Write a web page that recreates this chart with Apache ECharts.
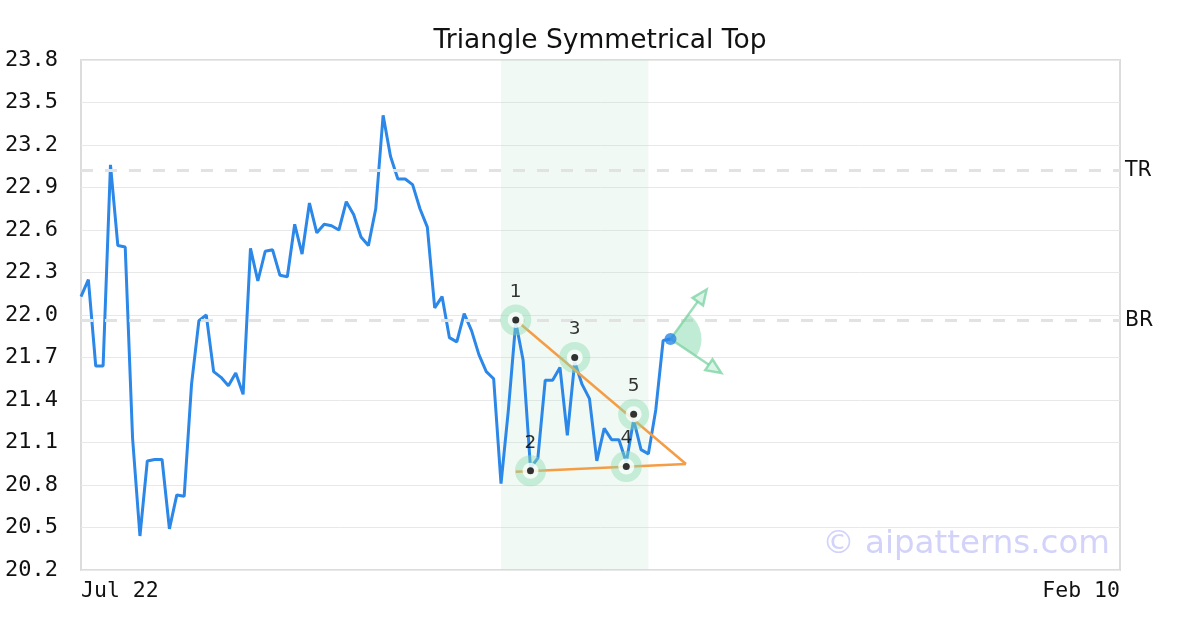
<!DOCTYPE html>
<html>
<head>
<meta charset="utf-8">
<script src="https://cdn.jsdelivr.net/npm/echarts@6/dist/echarts.min.js"></script>
<style>html,body{margin:0;padding:0;background:#fff}#c{width:1200px;height:630px}</style>
</head>
<body>
<div id="c"></div>
<script>
// ---- data ----
const titleText = 'Triangle Symmetrical Top';
const xTickValues = [0, 141];
const xTickLabels = ['Jul 22', 'Feb 10'];
const prices = [
  22.13, 22.25, 21.64, 21.64, 23.06, 22.49, 22.48, 21.13, 20.44, 20.97,
  20.98, 20.98, 20.49, 20.73, 20.72, 21.51, 21.96, 22.00, 21.60, 21.56,
  21.50, 21.59, 21.44, 22.47, 22.24, 22.45, 22.46, 22.28, 22.27, 22.64,
  22.43, 22.79, 22.58, 22.64, 22.63, 22.60, 22.80, 22.71, 22.55, 22.49,
  22.75, 23.41, 23.12, 22.96, 22.96, 22.92, 22.75, 22.62, 22.05, 22.13,
  21.84, 21.81, 22.01, 21.89, 21.72, 21.60, 21.55, 20.81, 21.33, 21.95,
  21.68, 20.92, 20.99, 21.54, 21.54, 21.63, 21.15, 21.67, 21.51, 21.41,
  20.97, 21.20, 21.12, 21.12, 20.96, 21.26, 21.05, 21.02, 21.33, 21.82,
  21.83
];
const pivotX = [59, 61, 67, 74, 75];
const pivotY = [21.965, 20.90, 21.70, 20.93, 21.30];
const pivotLabels = ['1', '2', '3', '4', '5'];
const upperTrend = [[59, 21.965], [82.1, 20.948]];
const lowerTrend = [[59, 20.894], [82.1, 20.948]];
const zoneRange = [57, 77];
const levelNames = ['TR', 'BR'];
const levelValues = [23.02, 21.96];
const arrowOrigin = [80, 21.83];
const arrowUpTip = [84.9, 22.18];
const arrowDownTip = [86.9, 21.59];
const watermark = '\u00A9 aipatterns.com';

// ---- build ----
const lineData = prices.map((v, i) => [i, v]);
const pivotData = pivotX.map((x, i) => [x, pivotY[i], pivotLabels[i]]);
const lastPoint = [[prices.length - 1, prices[prices.length - 1]]];

const chart = echarts.init(document.getElementById('c'), null, {renderer: 'canvas'});

function arrowRender(params, api) {
  const o = api.coord(arrowOrigin);
  const tips = [api.coord(arrowUpTip), api.coord(arrowDownTip)];
  const col = 'rgba(120,210,160,0.75)';
  const children = [];
  const angs = tips.map(t => Math.atan2(t[1] - o[1], t[0] - o[0]));
  children.push({
    type: 'sector',
    shape: {cx: o[0], cy: o[1], r0: 0, r: 31, startAngle: angs[0], endAngle: angs[1], clockwise: true},
    style: {fill: 'rgba(130,215,170,0.5)'}
  });
  tips.forEach((t, k) => {
    const a = angs[k];
    const L = 15, W = 6.5;
    const bx = t[0] - L * Math.cos(a), by = t[1] - L * Math.sin(a);
    children.push({
      type: 'line',
      shape: {x1: o[0], y1: o[1], x2: bx, y2: by},
      style: {stroke: col, lineWidth: 2.5}
    });
    children.push({
      type: 'polygon',
      shape: {points: [
        [t[0], t[1]],
        [bx + W * Math.sin(a), by - W * Math.cos(a)],
        [bx - W * Math.sin(a), by + W * Math.cos(a)]
      ]},
      style: {stroke: col, lineWidth: 2.5, fill: 'rgba(150,225,185,0.35)'}
    });
  });
  return {type: 'group', children};
}

chart.setOption({
  animation: false,
  backgroundColor: '#fff',
  title: {
    text: titleText, left: 'center', top: 23,
    textStyle: {fontFamily: 'DejaVu Sans', fontSize: 26.5, fontWeight: 'normal', color: '#111'}
  },
  grid: {left: 81, right: 80, top: 60, bottom: 60, show: true, borderColor: '#dcdcdc', borderWidth: 2, backgroundColor: 'transparent'},
  xAxis: {
    type: 'value', min: 0, max: 141,
    axisLine: {show: false}, axisTick: {show: false}, splitLine: {show: false},
    axisLabel: {
      customValues: xTickValues,
      formatter: v => xTickLabels[xTickValues.indexOf(v)] || '',
      alignMinLabel: 'left', alignMaxLabel: 'right',
      fontFamily: 'DejaVu Sans Mono', fontSize: 21.5, color: '#111', margin: 10
    }
  },
  yAxis: {
    type: 'value', min: 20.2, max: 23.8, interval: 0.3,
    axisLine: {show: false}, axisTick: {show: false},
    splitLine: {lineStyle: {color: '#e8e8e8', width: 1}},
    axisLabel: {formatter: v => v.toFixed(1), fontFamily: 'DejaVu Sans Mono', fontSize: 22, color: '#111', margin: 23, padding: [9, 0, 0, 0]}
  },
  graphic: [{
    type: 'text', right: 90, top: 528, z: 100,
    style: {text: watermark, font: '32.5px "DejaVu Sans"', fill: 'rgba(165,165,245,0.5)'}
  }],
  series: [
    {
      type: 'line', data: lineData, showSymbol: false, z: 3,
      lineStyle: {color: '#2b87e8', width: 3}, itemStyle: {color: '#2b87e8'},
      markArea: {
        silent: true,
        itemStyle: {color: 'rgba(170,220,195,0.18)'},
        data: [[{xAxis: zoneRange[0]}, {xAxis: zoneRange[1]}]]
      },
      markLine: {
        silent: true, symbol: 'none',
        lineStyle: {color: '#e2e2e2', width: 3, type: [12, 12]},
        label: {position: 'end', distance: 5, padding: [7, 0, 0, 0], formatter: p => p.name, fontFamily: 'DejaVu Sans', fontSize: 20.5, color: '#111'},
        data: levelValues.map((v, i) => ({yAxis: v, name: levelNames[i]}))
      }
    },
    {type: 'line', data: upperTrend, showSymbol: false, z: 4, lineStyle: {color: '#f59d45', width: 2.5}},
    {type: 'line', data: lowerTrend, showSymbol: false, z: 4, lineStyle: {color: '#f59d45', width: 2.5}},
    {
      type: 'scatter', data: pivotData, symbolSize: 31, z: 5,
      itemStyle: {color: 'rgba(140,218,176,0.55)'},
      label: {show: true, position: 'top', distance: 3, formatter: p => p.data[2], fontFamily: 'DejaVu Sans', fontSize: 18.5, color: '#000'}
    },
    {type: 'scatter', data: pivotData, symbolSize: 16, z: 6, itemStyle: {color: '#fff'}},
    {type: 'scatter', data: pivotData, symbolSize: 7, z: 7, itemStyle: {color: '#000'}},
    {type: 'custom', data: [arrowOrigin], renderItem: arrowRender, z: 5, silent: true},
    {type: 'scatter', data: lastPoint, symbolSize: 12, z: 8, itemStyle: {color: '#2b87e8'}}
  ]
});
</script>
</body>
</html>
